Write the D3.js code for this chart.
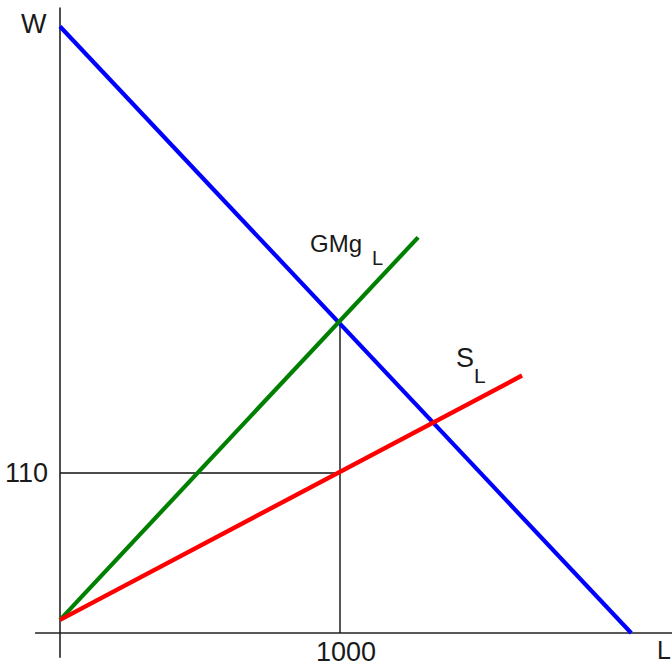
<!DOCTYPE html>
<html>
<head>
<meta charset="utf-8">
<script src="https://cdn.jsdelivr.net/npm/d3@7"></script>
<style>
  html, body { margin: 0; padding: 0; background: #fff; }
  svg { display: block; }
  text { font-family: Arial, "Liberation Sans", sans-serif; fill: #1a1a1a; }
</style>
</head>
<body>
<svg id="chart" width="672" height="666"></svg>
<script>
// Labour market: wage W against quantity of labour L
const demandLine = [[0, 417], [2040, 0]];          // blue, downward sloping
const marginalCostLine = [[0, 9], [1279, 272]];    // GMg_L, green
const supplyLine = [[0, 9], [1650, 177]];          // S_L, red
const equilibrium = { L: 1000, W: 110, Wtop: 215 };
const xTickLabels = [{ value: 1000, text: "1000" }];
const yTickLabels = [{ value: 110, text: "110" }];
const axisExtentX = [-89, 2186];
const axisExtentY = [-17, 430];

const svg = d3.select("#chart");
const x = d3.scaleLinear().domain([0, 1000]).range([60, 340]);
const y = d3.scaleLinear().domain([0, 110]).range([633, 473]);
const line = d3.line().x(d => x(d[0])).y(d => y(d[1]));

// axes
svg.append("line")
  .attr("x1", x(0)).attr("x2", x(0))
  .attr("y1", y(axisExtentY[1])).attr("y2", y(axisExtentY[0]))
  .attr("stroke", "#222").attr("stroke-width", 1.6);
svg.append("line")
  .attr("x1", x(axisExtentX[0])).attr("x2", x(axisExtentX[1]))
  .attr("y1", y(0)).attr("y2", y(0))
  .attr("stroke", "#222").attr("stroke-width", 1.6);

// reference lines at the equilibrium
svg.append("line")
  .attr("x1", x(equilibrium.L)).attr("x2", x(equilibrium.L))
  .attr("y1", y(equilibrium.Wtop)).attr("y2", y(0))
  .attr("stroke", "#111").attr("stroke-width", 1.4);
svg.append("line")
  .attr("x1", x(0)).attr("x2", x(equilibrium.L))
  .attr("y1", y(equilibrium.W)).attr("y2", y(equilibrium.W))
  .attr("stroke", "#111").attr("stroke-width", 1.4);

// curves
svg.append("path").datum(demandLine).attr("d", line)
  .attr("fill", "none").attr("stroke", "#0000ff").attr("stroke-width", 4.2);
svg.append("path").datum(marginalCostLine).attr("d", line)
  .attr("fill", "none").attr("stroke", "#008000").attr("stroke-width", 4.2);
svg.append("path").datum(supplyLine).attr("d", line)
  .attr("fill", "none").attr("stroke", "#ff0000").attr("stroke-width", 4.4);

// tick labels
svg.selectAll(".xt").data(xTickLabels).enter().append("text")
  .attr("x", d => x(d.value) + 6).attr("y", 661)
  .attr("text-anchor", "middle").attr("font-size", 27)
  .text(d => d.text);
svg.selectAll(".yt").data(yTickLabels).enter().append("text")
  .attr("x", 48).attr("y", d => y(d.value) + 9)
  .attr("text-anchor", "end").attr("font-size", 27)
  .text(d => d.text);

// axis titles
svg.append("text").attr("x", 21).attr("y", 33).attr("font-size", 27).text("W");
svg.append("text").attr("x", 657).attr("y", 659).attr("font-size", 25).text("L");

// curve labels with subscripts
const gmg = svg.append("text").attr("x", 310).attr("y", 252).attr("font-size", 24);
gmg.append("tspan").text("GMg");
gmg.append("tspan").attr("x", 372).attr("y", 265).attr("font-size", 20).text("L");

const sl = svg.append("text").attr("x", 456).attr("y", 367).attr("font-size", 27);
sl.append("tspan").text("S");
sl.append("tspan").attr("x", 474).attr("y", 383).attr("font-size", 21).text("L");
</script>
</body>
</html>
